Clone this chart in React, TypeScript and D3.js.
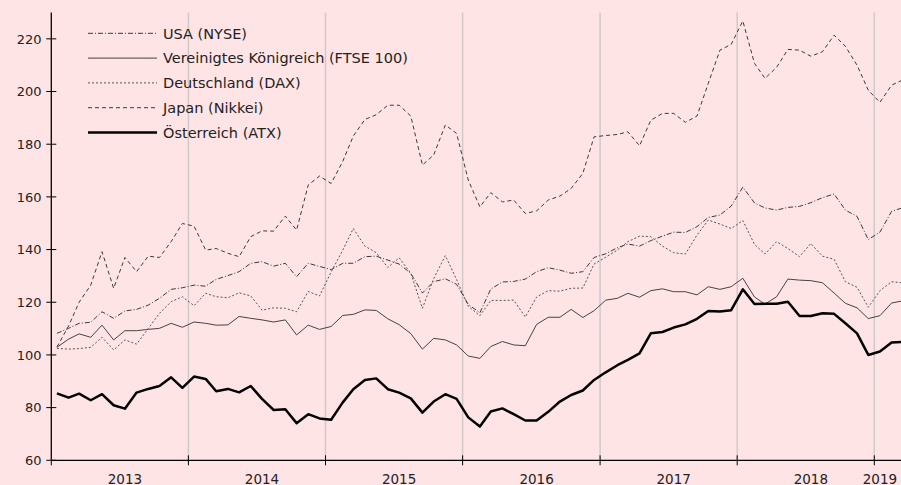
import React, { useEffect, useRef } from 'react';
import * as d3 from 'd3';

// Indexentwicklung, monatlich Jan 2013 bis Mär 2019 (Jan 2013 ~ 100)
const years = [2013, 2014, 2015, 2016, 2017, 2018, 2019];
const yTicks = [60, 80, 100, 120, 140, 160, 180, 200, 220];

const usa = [
  108.2, 110.1, 112.0, 112.4, 116.4, 113.9, 116.7, 117.3, 118.9, 121.5, 124.9, 125.5,
  126.5, 126.1, 128.7, 130.1, 131.6, 134.8, 135.4, 133.7, 134.8, 129.7, 134.8, 133.6,
  132.4, 134.8, 134.8, 137.3, 137.5, 136.0, 134.5, 131.0, 123.5, 127.8, 128.9, 126.8,
  119.2, 116.0, 125.0, 127.7, 127.9, 128.8, 131.6, 133.1, 132.2, 131.0, 131.6, 137.0,
  138.4, 140.7, 142.1, 141.3, 143.4, 145.1, 146.6, 146.5, 148.7, 152.2, 153.1, 156.5,
  163.7, 157.7, 155.8, 155.0, 156.0, 156.4, 157.8, 159.7, 161.1, 155.0, 152.6, 143.8,
  146.6, 154.5, 155.8,
];
const ftse = [
  102.9, 106.0, 108.0, 106.7, 111.3, 105.7, 109.2, 109.2, 109.7, 110.1, 112.0, 110.5,
  112.5, 112.0, 111.3, 111.4, 114.6, 113.9, 113.3, 112.5, 113.3, 107.6, 111.3, 109.7,
  110.8, 115.0, 115.4, 117.1, 116.9, 113.7, 111.5, 108.1, 102.2, 106.3, 105.7, 103.8,
  99.6, 98.7, 103.2, 105.1, 103.8, 103.5, 111.6, 114.3, 114.3, 117.3, 114.2, 116.8,
  120.8, 121.5, 123.4, 121.9, 124.4, 125.1, 124.0, 124.0, 122.8, 125.9, 124.9, 125.9,
  129.1, 122.0, 119.3, 122.1, 128.8, 128.4, 128.2, 127.4, 123.5, 119.6, 117.9, 113.8,
  114.9, 119.7, 120.5,
];
const dax = [
  102.5, 102.2, 102.4, 102.9, 106.7, 101.9, 105.7, 104.1, 110.0, 115.8, 120.2, 122.1,
  118.7, 123.4, 122.1, 121.7, 123.6, 122.4, 117.0, 117.9, 117.7, 116.4, 124.1, 122.4,
  131.5, 139.8, 148.0, 141.3, 138.8, 133.2, 136.9, 131.0, 117.7, 129.0, 137.7, 128.6,
  118.5, 114.9, 120.7, 120.7, 120.8, 114.4, 122.0, 124.4, 124.2, 125.3, 125.4, 134.5,
  137.1, 139.8, 143.0, 145.1, 144.9, 141.3, 138.8, 138.3, 145.5, 151.2, 149.7, 148.0,
  151.0, 142.0, 138.3, 143.0, 140.4, 137.3, 142.3, 137.5, 136.3, 127.8, 125.7, 118.1,
  124.4, 127.8, 127.4,
];
const nikkei = [
  103.0, 111.0, 120.0, 126.5, 139.2, 125.3, 137.0, 131.6, 137.5, 137.0, 143.0, 149.9,
  148.9, 139.8, 140.4, 138.6, 137.3, 144.9, 147.1, 147.0, 152.7, 147.4, 164.5, 167.9,
  165.1, 173.5, 183.1, 189.4, 191.2, 194.8, 194.8, 190.7, 172.1, 175.9, 187.3, 184.1,
  166.4, 156.2, 161.6, 158.1, 158.8, 153.7, 154.7, 158.8, 160.3, 163.2, 168.9, 182.8,
  183.3, 183.7, 184.7, 179.4, 189.1, 191.7, 191.7, 188.3, 190.7, 203.1, 215.7, 217.9,
  226.8, 210.7, 205.0, 209.2, 216.0, 215.7, 213.4, 215.1, 221.4, 217.2, 210.0, 200.5,
  195.9, 202.4, 204.3,
];
const atx = [
  85.4, 83.8, 85.3, 82.8, 85.1, 80.9, 79.6, 85.7, 87.1, 88.2, 91.5, 87.5,
  91.8, 90.9, 86.2, 87.1, 85.8, 88.2, 83.3, 79.1, 79.4, 74.1, 77.5, 75.9,
  75.4, 82.0, 87.0, 90.5, 91.1, 87.0, 85.7, 83.5, 78.1, 82.3, 85.1, 83.3,
  76.3, 72.8, 78.5, 79.7, 77.5, 75.1, 75.1, 78.4, 82.3, 84.8, 86.5, 90.5,
  93.4, 96.1, 98.1, 100.6, 108.2, 108.7, 110.4, 111.6, 113.7, 116.7, 116.5, 117.0,
  124.9, 119.3, 119.4, 119.4, 120.2, 114.8, 114.8, 115.8, 115.6, 112.0, 108.2, 100.0,
  101.3, 104.7, 104.9,
];

const seriesNames = [
  'USA (NYSE)',
  'Vereinigtes Königreich (FTSE 100)',
  'Deutschland (DAX)',
  'Japan (Nikkei)',
  'Österreich (ATX)',
];
const seriesValues = [usa, ftse, dax, nikkei, atx];

// Linienstile je Serie (gleiche Reihenfolge wie seriesNames)
const styles = [
  { stroke: '#3a3a3a', width: 1, dash: '5,2,1,2' },
  { stroke: '#444', width: 1, dash: null },
  { stroke: '#555', width: 1, dash: '2,2' },
  { stroke: '#3a3a3a', width: 1, dash: '4,3' },
  { stroke: '#000', width: 2.5, dash: null },
];

const W = 901;
const H = 485;
const FONT = '"DejaVu Sans", sans-serif';

export default function App() {
  const ref = useRef<SVGSVGElement | null>(null);

  useEffect(() => {
    if (!ref.current) return;
    const svg = d3.select(ref.current);
    svg.selectAll('*').remove();

    const left = 51.3;
    const bottom = 460.3;
    const top = 12.5;

    const months = d3.timeMonth.range(new Date(2013, 0, 1), new Date(2019, 3, 1));
    const dates = months.map(m => d3.timeDay.offset(m, 15));

    const x = d3.scaleTime()
      .domain([new Date(2013, 0, 1), new Date(2019, 0, 1)])
      .range([left, 874.3]);
    const y = d3.scaleLinear().domain([60, 230]).range([bottom, top]);

    svg.append('rect')
      .attr('width', W)
      .attr('height', H)
      .attr('fill', '#ffe4e6');

    // vertikale Jahresraster
    svg.append('g')
      .selectAll('line')
      .data(years.slice(1))
      .join('line')
      .attr('x1', d => x(new Date(d, 0, 1)))
      .attr('x2', d => x(new Date(d, 0, 1)))
      .attr('y1', top)
      .attr('y2', bottom)
      .attr('stroke', '#cfc9ca')
      .attr('stroke-width', 1.5);

    // Linien
    const line = d3.line<number>()
      .x((_, i) => x(dates[i]))
      .y(d => y(d));

    seriesValues.forEach((vals, k) => {
      const s = styles[k];
      svg.append('path')
        .datum(vals)
        .attr('fill', 'none')
        .attr('stroke', s.stroke)
        .attr('stroke-width', s.width)
        .attr('stroke-linejoin', 'round')
        .attr('stroke-dasharray', s.dash)
        .attr('d', line);
    });

    // Achsen
    const axisColor = '#000';
    svg.append('line')
      .attr('x1', left).attr('x2', left)
      .attr('y1', top).attr('y2', bottom)
      .attr('stroke', axisColor).attr('stroke-width', 1.3);
    svg.append('line')
      .attr('x1', left).attr('x2', W)
      .attr('y1', bottom).attr('y2', bottom)
      .attr('stroke', axisColor).attr('stroke-width', 1.3);

    const yAxis = svg.append('g');
    yAxis.selectAll('line')
      .data(yTicks)
      .join('line')
      .attr('x1', left - 5).attr('x2', left + 5)
      .attr('y1', d => y(d)).attr('y2', d => y(d))
      .attr('stroke', axisColor);
    yAxis.selectAll('text')
      .data(yTicks)
      .join('text')
      .attr('x', 41.5)
      .attr('y', d => y(d))
      .attr('dy', '0.36em')
      .attr('text-anchor', 'end')
      .style('font-family', FONT)
      .style('font-size', '13px')
      .attr('fill', '#222')
      .text(d => d);

    const xAxis = svg.append('g');
    xAxis.selectAll('line')
      .data(years)
      .join('line')
      .attr('x1', d => x(new Date(d, 0, 1)))
      .attr('x2', d => x(new Date(d, 0, 1)))
      .attr('y1', d => (d === 2013 ? bottom : bottom - 5))
      .attr('y2', bottom + 5)
      .attr('stroke', axisColor);
    xAxis.selectAll('text')
      .data(years)
      .join('text')
      .attr('x', d => x(new Date(d, d === 2019 ? 0 : 6, 16)))
      .attr('y', 483.5)
      .attr('text-anchor', 'middle')
      .style('font-family', FONT)
      .style('font-size', '13.5px')
      .attr('fill', '#222')
      .text(d => d);

    // Legende
    const legend = svg.append('g');
    seriesNames.forEach((name, k) => {
      const s = styles[k];
      const ly = 33.3 + k * 24.8;
      legend.append('line')
        .attr('x1', 88).attr('x2', 157)
        .attr('y1', ly).attr('y2', ly)
        .attr('stroke', s.stroke)
        .attr('stroke-width', s.width)
        .attr('stroke-dasharray', s.dash);
      legend.append('text')
        .attr('x', 163)
        .attr('y', ly)
        .attr('dy', '0.36em')
        .style('font-family', FONT)
        .style('font-size', '14.5px')
        .attr('fill', '#222')
        .text(name);
    });
  }, []);

  return (
    <svg
      ref={ref}
      width={W}
      height={H}
      style={{ position: 'absolute', left: 0, top: 0, display: 'block' }}
    />
  );
}
